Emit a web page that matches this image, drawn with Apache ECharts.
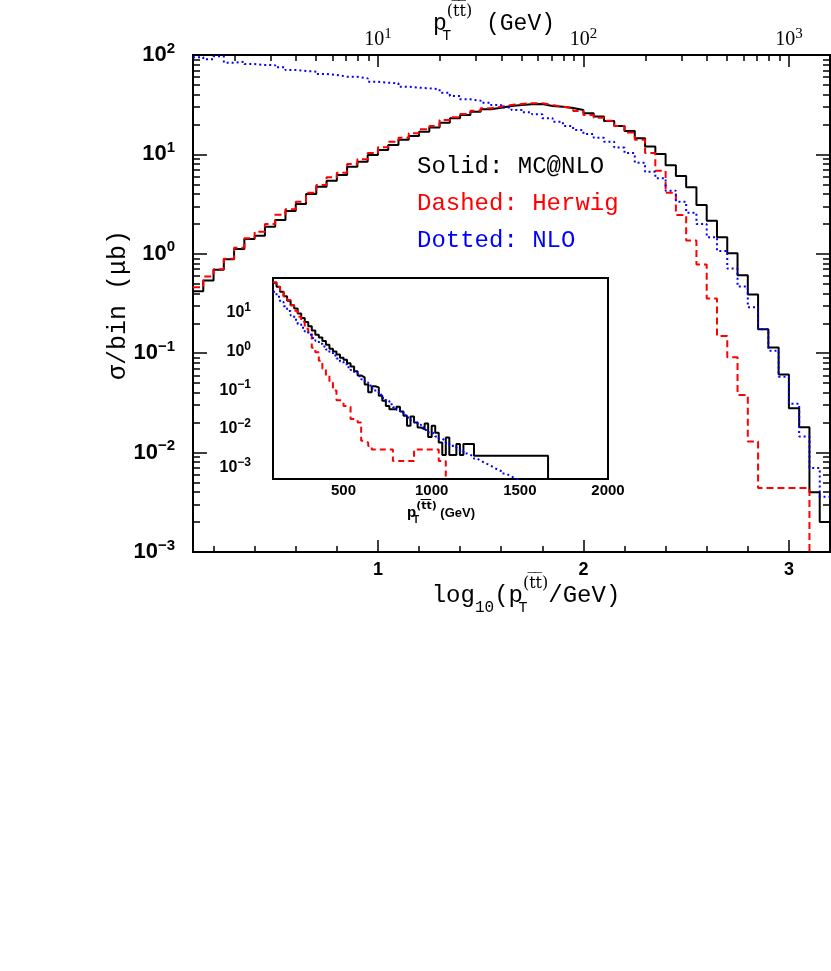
<!DOCTYPE html>
<html><head><meta charset="utf-8">
<script src="https://cdn.jsdelivr.net/npm/echarts@6/dist/echarts.min.js"></script>
<style>html,body{margin:0;padding:0;background:#fff}#c{width:831px;height:971px}</style>
</head><body><div id="c"></div><script>
// ---------- main plot: log10(pT/GeV) histograms, bins of 0.05 starting at 0.10 ----------
const mainBinStart = 0.10;
const mainBinWidth = 0.05;
const mcnloMain = [0.42,0.54,0.69,0.88,1.12,1.41,1.52,1.87,2.19,2.70,3.17,4.0,4.73,5.44,6.21,7.52,8.45,9.87,11.1,12.4,
  14.0,15.3,16.9,18.7,20.8,23.1,24.9,26.9,28.4,29.5,30.7,31.4,31.9,32.1,30.7,30.2,29.3,28.0,25.9,24.0,
  21.7,19.3,17.2,14.5,12.0,10.1,7.8,6.07,4.67,3.1,2.15,1.47,1.01,0.61,0.39,0.174,0.114,0.061,0.028,0.018,
  0.0040,0.0020];
const herwigMain = [0.46,0.59,0.70,0.89,1.15,1.43,1.67,2.0,2.47,2.8,3.34,4.12,4.92,5.88,6.55,8.0,8.93,10.3,11.8,13.4,
  14.7,16.3,17.9,19.3,22.2,23.6,25.5,27.5,29.1,30.2,31.4,32.2,32.7,32.7,31.4,30.2,29.1,27.4,24.9,23.4,
  21.8,19.3,16.6,14.0,10.3,6.86,4.12,2.45,1.36,0.78,0.356,0.149,0.091,0.038,0.0129,0.0044,0.0044,0.0044,0.0044,0.0044,
  0,0];
const nloMain = [94.8,90.5,97,83.7,85.7,81.2,79.3,79,75.2,70.6,69,68,64.4,63,60.5,60.5,58.2,53.8,52.6,51.9,
  48,46.9,46.2,45.2,41.8,38.7,35.8,34.7,33.1,31.4,29.7,28,26.5,25.3,23.1,21.3,19.3,17.6,16.0,14.7,
  13.4,11.7,10.3,8.26,6.7,5.74,4.32,3.34,2.59,1.99,1.47,1.07,0.71,0.47,0.29,0.174,0.106,0.058,0.031,0.0145,
  0.0070,0.0036];

// ---------- inset: pT histograms, bins of 20 GeV starting at 100 GeV ----------
const insetBinStart = 100;
const insetBinWidth = 20;
const mcnloInset = [60,47.5,35,27,20.5,15.8,13,9.6,7.4,5.8,4.5,3.5,2.7,2.3,1.87,1.5,1.18,1.0,0.84,0.69,
  0.61,0.50,0.41,0.31,0.24,0.215,0.139,0.088,0.126,0.118,0.072,0.053,0.039,0.032,0.032,0.037,0.028,0.0216,0.0119,0.0208,
  0.0145,0.0107,0.0097,0.0136,0.0061,0.0119,0.0079,0.0044,0.0021,0.0059,0.0021,0.0021,0.0040,0.0021,0.0040,0.0040,0.0040,
  0.0020,0.0020,0.0020,0.0020,0.0020,0.0020,0.0020,0.0020,0.0020,0.0020,0.0020,0.0020,0.0020,0.0020,0.0020,0.0020,0.0020,
  0.0020,0.0020,0.0020,0.0020,0];
const herwigInset = [62,47,35,27,21.4,15.8,11.3,7.9,5.8,3.9,2.9,1.25,0.96,0.58,0.36,0.24,0.16,0.098,0.055,0.051,
  0.039,0.037,0.018,0.017,0.0146,0.0049,0.0044,0.0036,0.0029,0.0029,0.0029,0.0029,0.0029,0.0029,
  0.00146,0.00146,0.00146,0.00146,0.00146,0.00146,0.0029,0.0029,0.0029,0.0029,0.0029,0.0029,0.0029,
  0.00146,0.00146,0];
const nloInset = [35,26,19,14.8,11.2,8.5,6.6,5.1,4.1,3.3,2.7,2.24,1.9,1.58,1.35,1.12,0.93,0.79,0.66,0.55,
  0.47,0.39,0.33,0.275,0.23,0.19,0.158,0.132,0.11,0.091,0.076,0.063,0.052,0.043,0.036,0.031,0.026,0.0224,0.0195,0.0166,
  0.0145,0.0126,0.0107,0.0093,0.0081,0.0072,0.0063,0.0055,0.0049,0.0043,0.0038,0.0033,0.0030,0.0026,0.0023,0.0021,0.0019,
  0.00166,0.00148,0.00132,0.0012,0.00107,0.00095,0.00085,0.00078,0.00069,0.00063,0.00056,0.00051,0.00046,0.00041];

// ---------- axis ticks / labels ----------
const mainXMajor = [1, 2, 3];
const mainXMinor = [0.2,0.4,0.6,0.8,1.2,1.4,1.6,1.8,2.2,2.4,2.6,2.8];
const topMajorPt = [10, 100, 1000];
const topMinorPt = [2,3,4,5,6,7,8,9,20,30,40,50,60,70,80,90,200,300,400,500,600,700,800,900];
const mainYMajorExp = [-3,-2,-1,0,1,2];
const mainYMin = 1e-3, mainYMax = 100;
const insetXMajor = [500, 1000, 1500, 2000];
const insetXMinor = [200,300,400,600,700,800,900,1100,1200,1300,1400,1600,1700,1800,1900];
const insetYMajorExp = [-3,-2,-1,0,1];
const insetYMin = 5e-4, insetYMax = 80;
const minorMult = [2,3,4,5,6,7,8,9];

const lg = Math.log10;
function minorLogs(lo, hi) {
  const out = [];
  for (let e = -4; e <= 3; e++) for (const m of minorMult) {
    const v = m * Math.pow(10, e);
    if (v > lo && v < hi) out.push(lg(v));
  }
  return out;
}
const floorVal = 1e-9;
function stepPoints(start, width, values) {
  const pts = values.map((v, i) => [start + i * width, v > 0 ? v : floorVal]);
  const last = values[values.length - 1];
  pts.push([start + values.length * width, last > 0 ? last : floorVal]);
  return pts;
}
const MINUS = '\u2212';
const expLabel = v => { const e = Math.round(v); return '{b|10}{s|' + (e < 0 ? MINUS + (-e) : e) + '}'; };

const tickStyle = {color: '#000', width: 1.5};
function tickAxis(extra) {
  return Object.assign({
    type: 'value', axisLine: {show: false, onZero: false}, splitLine: {show: false},
    axisLabel: {show: false}, silent: true
  }, extra);
}

const chart = echarts.init(document.getElementById('c'), null, {renderer: 'canvas'});
const sansB = '"Liberation Sans", Arial, sans-serif';
const mono = '"Liberation Mono", "DejaVu Sans Mono", monospace';
const serif = '"Liberation Serif", "DejaVu Serif", serif';
const OVL = '"DejaVu Serif", serif';
const ttbar = '(t\u0305t\u0305)';

const option = {
  animation: false,
  backgroundColor: '#fff',
  grid: [
    {left: 193, top: 55, width: 637, height: 497, show: true, borderColor: '#000', borderWidth: 2, backgroundColor: 'transparent', outerBoundsMode: 'none', containLabel: false},
    {left: 273, top: 278, width: 335, height: 201, show: true, borderColor: '#000', borderWidth: 2, backgroundColor: '#fff', outerBoundsMode: 'none', containLabel: false, z: 3}
  ],
  xAxis: [
    tickAxis({gridIndex: 0, position: 'bottom', min: 0.1, max: 3.2,
      axisTick: {show: true, inside: true, length: 12, customValues: mainXMajor, lineStyle: tickStyle},
      axisLabel: {show: true, customValues: mainXMajor, formatter: v => String(v), color: '#000',
        fontFamily: sansB, fontWeight: 'bold', fontSize: 18, margin: 9}}),
    tickAxis({gridIndex: 0, position: 'bottom', min: 0.1, max: 3.2,
      axisTick: {show: true, inside: true, length: 6, customValues: mainXMinor, lineStyle: tickStyle}}),
    tickAxis({gridIndex: 0, position: 'top', min: 0.1, max: 3.2,
      axisTick: {show: true, inside: true, length: 12, customValues: topMajorPt.map(lg), lineStyle: tickStyle},
      axisLabel: {show: true, customValues: topMajorPt.map(lg), formatter: expLabel, margin: 2,
        rich: {b: {fontFamily: serif, fontSize: 20, color: '#000', lineHeight: 26, verticalAlign: 'middle'},
               s: {fontFamily: serif, fontSize: 15, color: '#000', verticalAlign: 'top'}}}}),
    tickAxis({gridIndex: 0, position: 'top', min: 0.1, max: 3.2,
      axisTick: {show: true, inside: true, length: 6, customValues: topMinorPt.map(lg), lineStyle: tickStyle}}),
    tickAxis({gridIndex: 1, position: 'bottom', min: 100, max: 2000,
      axisTick: {show: true, inside: true, length: 9, customValues: insetXMajor, lineStyle: tickStyle},
      axisLabel: {show: true, customValues: insetXMajor, formatter: v => String(v), color: '#000',
        fontFamily: sansB, fontWeight: 'bold', fontSize: 15, margin: 4}}),
    tickAxis({gridIndex: 1, position: 'bottom', min: 100, max: 2000,
      axisTick: {show: true, inside: true, length: 5, customValues: insetXMinor, lineStyle: tickStyle}})
  ],
  yAxis: [
    {gridIndex: 0, type: 'log', logBase: 10, min: mainYMin, max: mainYMax, position: 'left',
      axisLine: {show: false, onZero: false}, axisTick: {show: false}, axisLabel: {show: false}, splitLine: {show: false}},
    tickAxis({gridIndex: 0, position: 'left', min: lg(mainYMin), max: lg(mainYMax),
      axisTick: {show: true, inside: true, length: 14, customValues: mainYMajorExp, lineStyle: tickStyle},
      axisLabel: {show: true, customValues: mainYMajorExp, formatter: expLabel, margin: 18,
        rich: {b: {fontFamily: sansB, fontWeight: 'bold', fontSize: 22, color: '#000', lineHeight: 28, verticalAlign: 'middle'},
               s: {fontFamily: sansB, fontWeight: 'bold', fontSize: 15, color: '#000', verticalAlign: 'top'}}}}),
    tickAxis({gridIndex: 0, position: 'left', min: lg(mainYMin), max: lg(mainYMax),
      axisTick: {show: true, inside: true, length: 7, customValues: minorLogs(mainYMin, mainYMax), lineStyle: tickStyle}}),
    tickAxis({gridIndex: 0, position: 'right', min: lg(mainYMin), max: lg(mainYMax),
      axisTick: {show: true, inside: true, length: 14, customValues: mainYMajorExp, lineStyle: tickStyle}}),
    tickAxis({gridIndex: 0, position: 'right', min: lg(mainYMin), max: lg(mainYMax),
      axisTick: {show: true, inside: true, length: 7, customValues: minorLogs(mainYMin, mainYMax), lineStyle: tickStyle}}),
    {gridIndex: 1, type: 'log', logBase: 10, min: insetYMin, max: insetYMax, position: 'left',
      axisLine: {show: false, onZero: false}, axisTick: {show: false}, axisLabel: {show: false}, splitLine: {show: false}},
    tickAxis({gridIndex: 1, position: 'left', min: lg(insetYMin), max: lg(insetYMax),
      axisTick: {show: true, inside: true, length: 10, customValues: insetYMajorExp, lineStyle: tickStyle},
      axisLabel: {show: true, customValues: insetYMajorExp, formatter: expLabel, margin: 22,
        rich: {b: {fontFamily: sansB, fontWeight: 'bold', fontSize: 16, color: '#000', lineHeight: 22, verticalAlign: 'middle'},
               s: {fontFamily: sansB, fontWeight: 'bold', fontSize: 12, color: '#000', verticalAlign: 'top'}}}}),
    tickAxis({gridIndex: 1, position: 'left', min: lg(insetYMin), max: lg(insetYMax),
      axisTick: {show: true, inside: true, length: 5, customValues: minorLogs(insetYMin, insetYMax), lineStyle: tickStyle}}),
    tickAxis({gridIndex: 1, position: 'right', min: lg(insetYMin), max: lg(insetYMax),
      axisTick: {show: true, inside: true, length: 10, customValues: insetYMajorExp, lineStyle: tickStyle}}),
    tickAxis({gridIndex: 1, position: 'right', min: lg(insetYMin), max: lg(insetYMax),
      axisTick: {show: true, inside: true, length: 5, customValues: minorLogs(insetYMin, insetYMax), lineStyle: tickStyle}})
  ],
  series: [
    {name: 'MC@NLO', type: 'line', step: 'end', xAxisIndex: 0, yAxisIndex: 0, data: stepPoints(mainBinStart, mainBinWidth, mcnloMain),
      symbol: 'none', clip: true, silent: true, lineStyle: {color: '#000', width: 2}, z: 2},
    {name: 'Herwig', type: 'line', step: 'end', xAxisIndex: 0, yAxisIndex: 0, data: stepPoints(mainBinStart, mainBinWidth, herwigMain),
      symbol: 'none', clip: true, silent: true, lineStyle: {color: '#ff0000', width: 2, type: [7, 4]}, z: 2},
    {name: 'NLO', type: 'line', step: 'end', xAxisIndex: 0, yAxisIndex: 0, data: stepPoints(mainBinStart, mainBinWidth, nloMain),
      symbol: 'none', clip: true, silent: true, lineStyle: {color: '#0000ff', width: 2, type: [2, 3]}, z: 2},
    {name: 'MC@NLO inset', type: 'line', step: 'end', xAxisIndex: 4, yAxisIndex: 5, data: stepPoints(insetBinStart, insetBinWidth, mcnloInset),
      symbol: 'none', clip: true, silent: true, lineStyle: {color: '#000', width: 2}, z: 4},
    {name: 'Herwig inset', type: 'line', step: 'end', xAxisIndex: 4, yAxisIndex: 5, data: stepPoints(insetBinStart, insetBinWidth, herwigInset),
      symbol: 'none', clip: true, silent: true, lineStyle: {color: '#ff0000', width: 2, type: [6, 4]}, z: 4},
    {name: 'NLO inset', type: 'line', step: 'end', xAxisIndex: 4, yAxisIndex: 5, data: stepPoints(insetBinStart, insetBinWidth, nloInset),
      symbol: 'none', clip: true, silent: true, lineStyle: {color: '#0000ff', width: 2, type: [2, 3]}, z: 4}
  ],
  graphic: [
    {type: 'text', x: 417, y: 167, style: {text: 'Solid: MC@NLO', fill: '#000', font: '24px ' + mono, textVerticalAlign: 'middle'}},
    {type: 'text', x: 417, y: 204, style: {text: 'Dashed: Herwig', fill: '#ff0000', font: '24px ' + mono, textVerticalAlign: 'middle'}},
    {type: 'text', x: 417, y: 241, style: {text: 'Dotted: NLO', fill: '#0000ff', font: '24px ' + mono, textVerticalAlign: 'middle'}},
    {type: 'text', x: 494, y: 24, style: {
      text: '{n|p}{t|T}{u|' + ttbar + '}{n| (GeV)}', textAlign: 'center', textVerticalAlign: 'middle',
      rich: {n: {fill: '#000', fontSize: 23, fontFamily: mono, lineHeight: 40, verticalAlign: 'middle'},
             t: {fill: '#000', fontSize: 15, fontFamily: mono, verticalAlign: 'bottom', width: 0},
             u: {fill: '#000', fontSize: 16, fontFamily: OVL, verticalAlign: 'top'}}}},
    {type: 'text', x: 526, y: 596, style: {
      text: '{n|log}{d|10}{n|(p}{t|T}{u|' + ttbar + '}{n|/GeV)}', textAlign: 'center', textVerticalAlign: 'middle',
      rich: {n: {fill: '#000', fontSize: 24, fontFamily: mono, lineHeight: 40, verticalAlign: 'middle'},
             d: {fill: '#000', fontSize: 16, fontFamily: mono, verticalAlign: 'bottom', lineHeight: 26},
             t: {fill: '#000', fontSize: 15, fontFamily: mono, verticalAlign: 'bottom', width: 0},
             u: {fill: '#000', fontSize: 16, fontFamily: OVL, verticalAlign: 'top'}}}},
    {type: 'text', x: 118, y: 305, rotation: Math.PI / 2, style: {
      text: '\u03c3/bin (\u03bcb)', fill: '#000', font: '25px ' + mono, textAlign: 'center', textVerticalAlign: 'middle'}},
    {type: 'text', x: 441, y: 513, z: 10, style: {
      text: '{n|p}{t|T}{u|' + ttbar + '}{m| (GeV)}', textAlign: 'center', textVerticalAlign: 'middle',
      rich: {n: {fill: '#000', fontSize: 15, fontWeight: 'bold', fontFamily: sansB, lineHeight: 24, verticalAlign: 'middle'},
             m: {fill: '#000', fontSize: 13, fontWeight: 'bold', fontFamily: sansB, lineHeight: 24, verticalAlign: 'middle'},
             t: {fill: '#000', fontSize: 10, fontWeight: 'bold', fontFamily: sansB, verticalAlign: 'bottom', width: 0},
             u: {fill: '#000', fontSize: 11, fontWeight: 'bold', fontFamily: '"DejaVu Sans", sans-serif', verticalAlign: 'top'}}}}
  ]
};
chart.setOption(option);
</script></body></html>
